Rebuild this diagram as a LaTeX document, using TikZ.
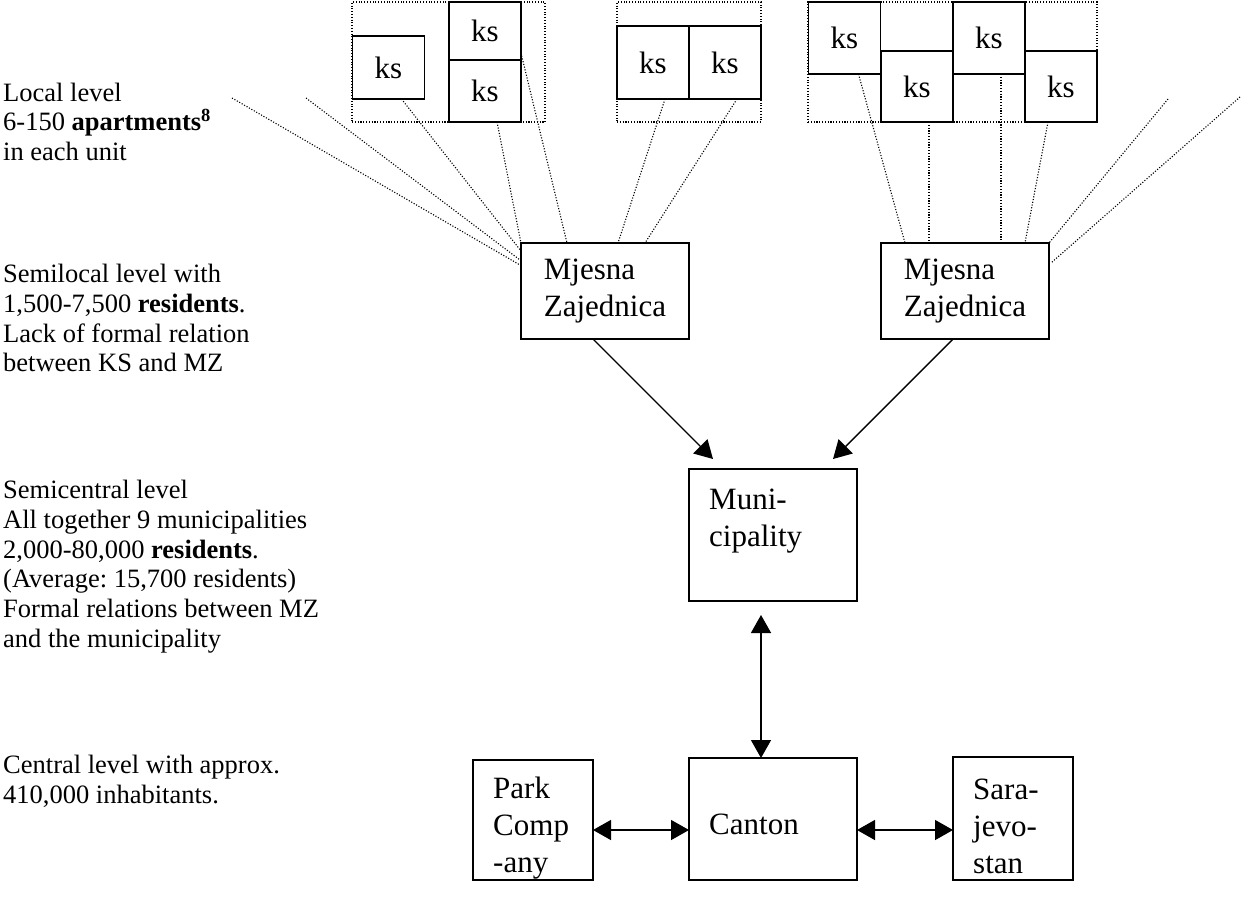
\documentclass[tikz,border=0pt]{standalone}
\usepackage{fontspec}
\setmainfont{Liberation Serif}
\usetikzlibrary{arrows.meta,calc}
\newcommand\myleftfont{\fontsize{26.5}{29.8}\selectfont}
\newcommand\myboxfont{\fontsize{31}{37}\selectfont}
\frenchspacing
\begin{document}
\begin{tikzpicture}[x=1pt,y=-1pt,
  dotline/.style={line width=1.1pt, dash pattern=on 1.1pt off 1.7pt},
  dotgroup/.style={draw, dotline, inner sep=0pt, outer sep=0pt, minimum height=120pt},
  ksbox/.style={draw, line width=1.5pt, fill=white, inner sep=0pt, outer sep=0pt, font=\myboxfont, minimum width=72pt},
  mainbox/.style={draw, line width=1.6pt, inner sep=0pt, outer sep=0pt},
  boxtext/.style={anchor=north west, inner sep=0pt, align=left, font=\myboxfont},
  lefttext/.style={anchor=north west, inner sep=0pt, align=left, font=\myleftfont},
  arr/.style={line width=1.4pt, -{Triangle[length=18pt,width=20pt]}},
  darr/.style={line width=1.4pt, {Triangle[length=18pt,width=20pt]}-{Triangle[length=18pt,width=20pt]}}
]
\useasboundingbox (0,0) rectangle (1242,902);

% dotted groups
\node[dotgroup, minimum width=193pt] (grp1) at (448.5,62) {};
\node[dotgroup, minimum width=144pt] (grp2) at (689,62) {};
\node[dotgroup, minimum width=289pt] (grp3) at (952.5,62) {};

% ks boxes
\node[ksbox, minimum height=63pt] (ksA) at (388.5,67.5) {ks};
\node[ksbox, minimum height=58pt] (ksB) at (485,31) {ks};
\node[ksbox, minimum height=62pt] (ksC) at (485,91) {ks};
\node[ksbox, minimum height=73pt] (ksD) at (653,62.5) {ks};
\node[ksbox, minimum height=73pt] (ksE) at (725,62.5) {ks};
\node[ksbox, minimum height=72pt] (ksF) at (844.5,38) {ks};
\node[ksbox, minimum height=71pt] (ksG) at (917,86.5) {ks};
\node[ksbox, minimum height=72pt] (ksH) at (989,38) {ks};
\node[ksbox, minimum height=71pt] (ksI) at (1061,86.5) {ks};

% main boxes
\node[mainbox, minimum width=168pt, minimum height=96pt, align=left, font=\myboxfont] (mz1) at (605,291) {Mjesna\\Zajednica};
\node[mainbox, minimum width=168pt, minimum height=96pt, align=left, font=\myboxfont] (mz2) at (965,291) {Mjesna\\Zajednica};
\node[mainbox, minimum width=168pt, minimum height=132pt] (muni) at (773,535) {};
\node[mainbox, minimum width=168pt, minimum height=122pt] (canton) at (773,819) {};
\node[mainbox, minimum width=120pt, minimum height=120pt] (park) at (533,820) {};
\node[mainbox, minimum width=120pt, minimum height=123pt] (saraj) at (1013,818.5) {};

\node[boxtext] (munit) at ($(muni.north west)+(20,20)$) {Muni-\\cipality};
\node[boxtext] (cantont) at ($(canton.north west)+(20,56)$) {Canton};
\node[boxtext] (parkt) at ($(park.north west)+(20,17)$) {Park\\Comp\\-any};
\node[boxtext] (sarajt) at ($(saraj.north west)+(20,22)$) {Sara-\\jevo-\\stan};

% free ends of dotted lines
\coordinate (f1) at (232,98);
\coordinate (f2) at (306,98);
\coordinate (f3) at (1168,99);
\coordinate (f4) at (1240,97);

% dotted connectors to MZ 1
\draw[dotline] (f1) -- ($(mz1.north west)+(-1,22)$);
\draw[dotline] (f2) -- ($(mz1.north west)+(-1,17)$);
\draw[dotline] ($(ksA.south west)+(49,0)$) -- ($(mz1.north west)+(0,8)$);
\draw[dotline] ($(ksC.south west)+(48,0)$) -- (mz1.north west);
\draw[dotline] ($(ksB.east)+(0,22)$) -- ($(mz1.north west)+(46,0)$);
\draw[dotline] ($(ksD.south west)+(48,0)$) -- ($(mz1.north west)+(97,0)$);
\draw[dotline] ($(ksE.south west)+(48,0)$) -- ($(mz1.north west)+(124,0)$);

% dotted connectors to MZ 2
\draw[dotline] ($(ksF.south west)+(50,0)$) -- ($(mz2.north west)+(24,0)$);
\draw[dotline] ($(ksG.south west)+(48,0)$) -- ($(mz2.north west)+(48,0)$);
\draw[dotline] ($(ksH.south west)+(48,0)$) -- ($(mz2.north west)+(120,0)$);
\draw[dotline] ($(ksI.south west)+(23,0)$) -- ($(mz2.north west)+(144,0)$);
\draw[dotline] (f3) -- (mz2.north east);
\draw[dotline] (f4) -- ($(mz2.north east)+(2,20)$);

% arrows
\draw[arr] ($(mz1.south)+(-12,0)$) -- ($(muni.north west)+(24,-10)$);
\draw[arr] ($(mz2.south)+(-12,0)$) -- ($(muni.north east)+(-24,-10)$);
\draw[darr] ($(muni.south)+(-12,14)$) -- ($(canton.north)+(-12,0)$);
\draw[darr] ($(park.east)+(0,10)$) -- ($(canton.west)+(0,11)$);
\draw[darr] ($(canton.east)+(0,11)$) -- ($(saraj.west)+(0,11.5)$);

% left texts
\node[lefttext] (t1) at (3,82.5) {Local level\\6-150 \textbf{apartments}\textsuperscript{\textbf{8}}\\in each unit};
\node[lefttext] (t2) at (3,264) {Semilocal level with\\1,500-7,500 \textbf{residents}.\\Lack of formal relation\\between KS and MZ};
\node[lefttext] (t3) at (3,480) {Semicentral level\\All together 9 municipalities\\2,000-80,000 \textbf{residents}.\\(Average: 15,700 residents)\\Formal relations between MZ\\and the municipality};
\node[lefttext] (t4) at (3,755) {Central level with approx.\\410,000 inhabitants.};
\end{tikzpicture}
\end{document}
